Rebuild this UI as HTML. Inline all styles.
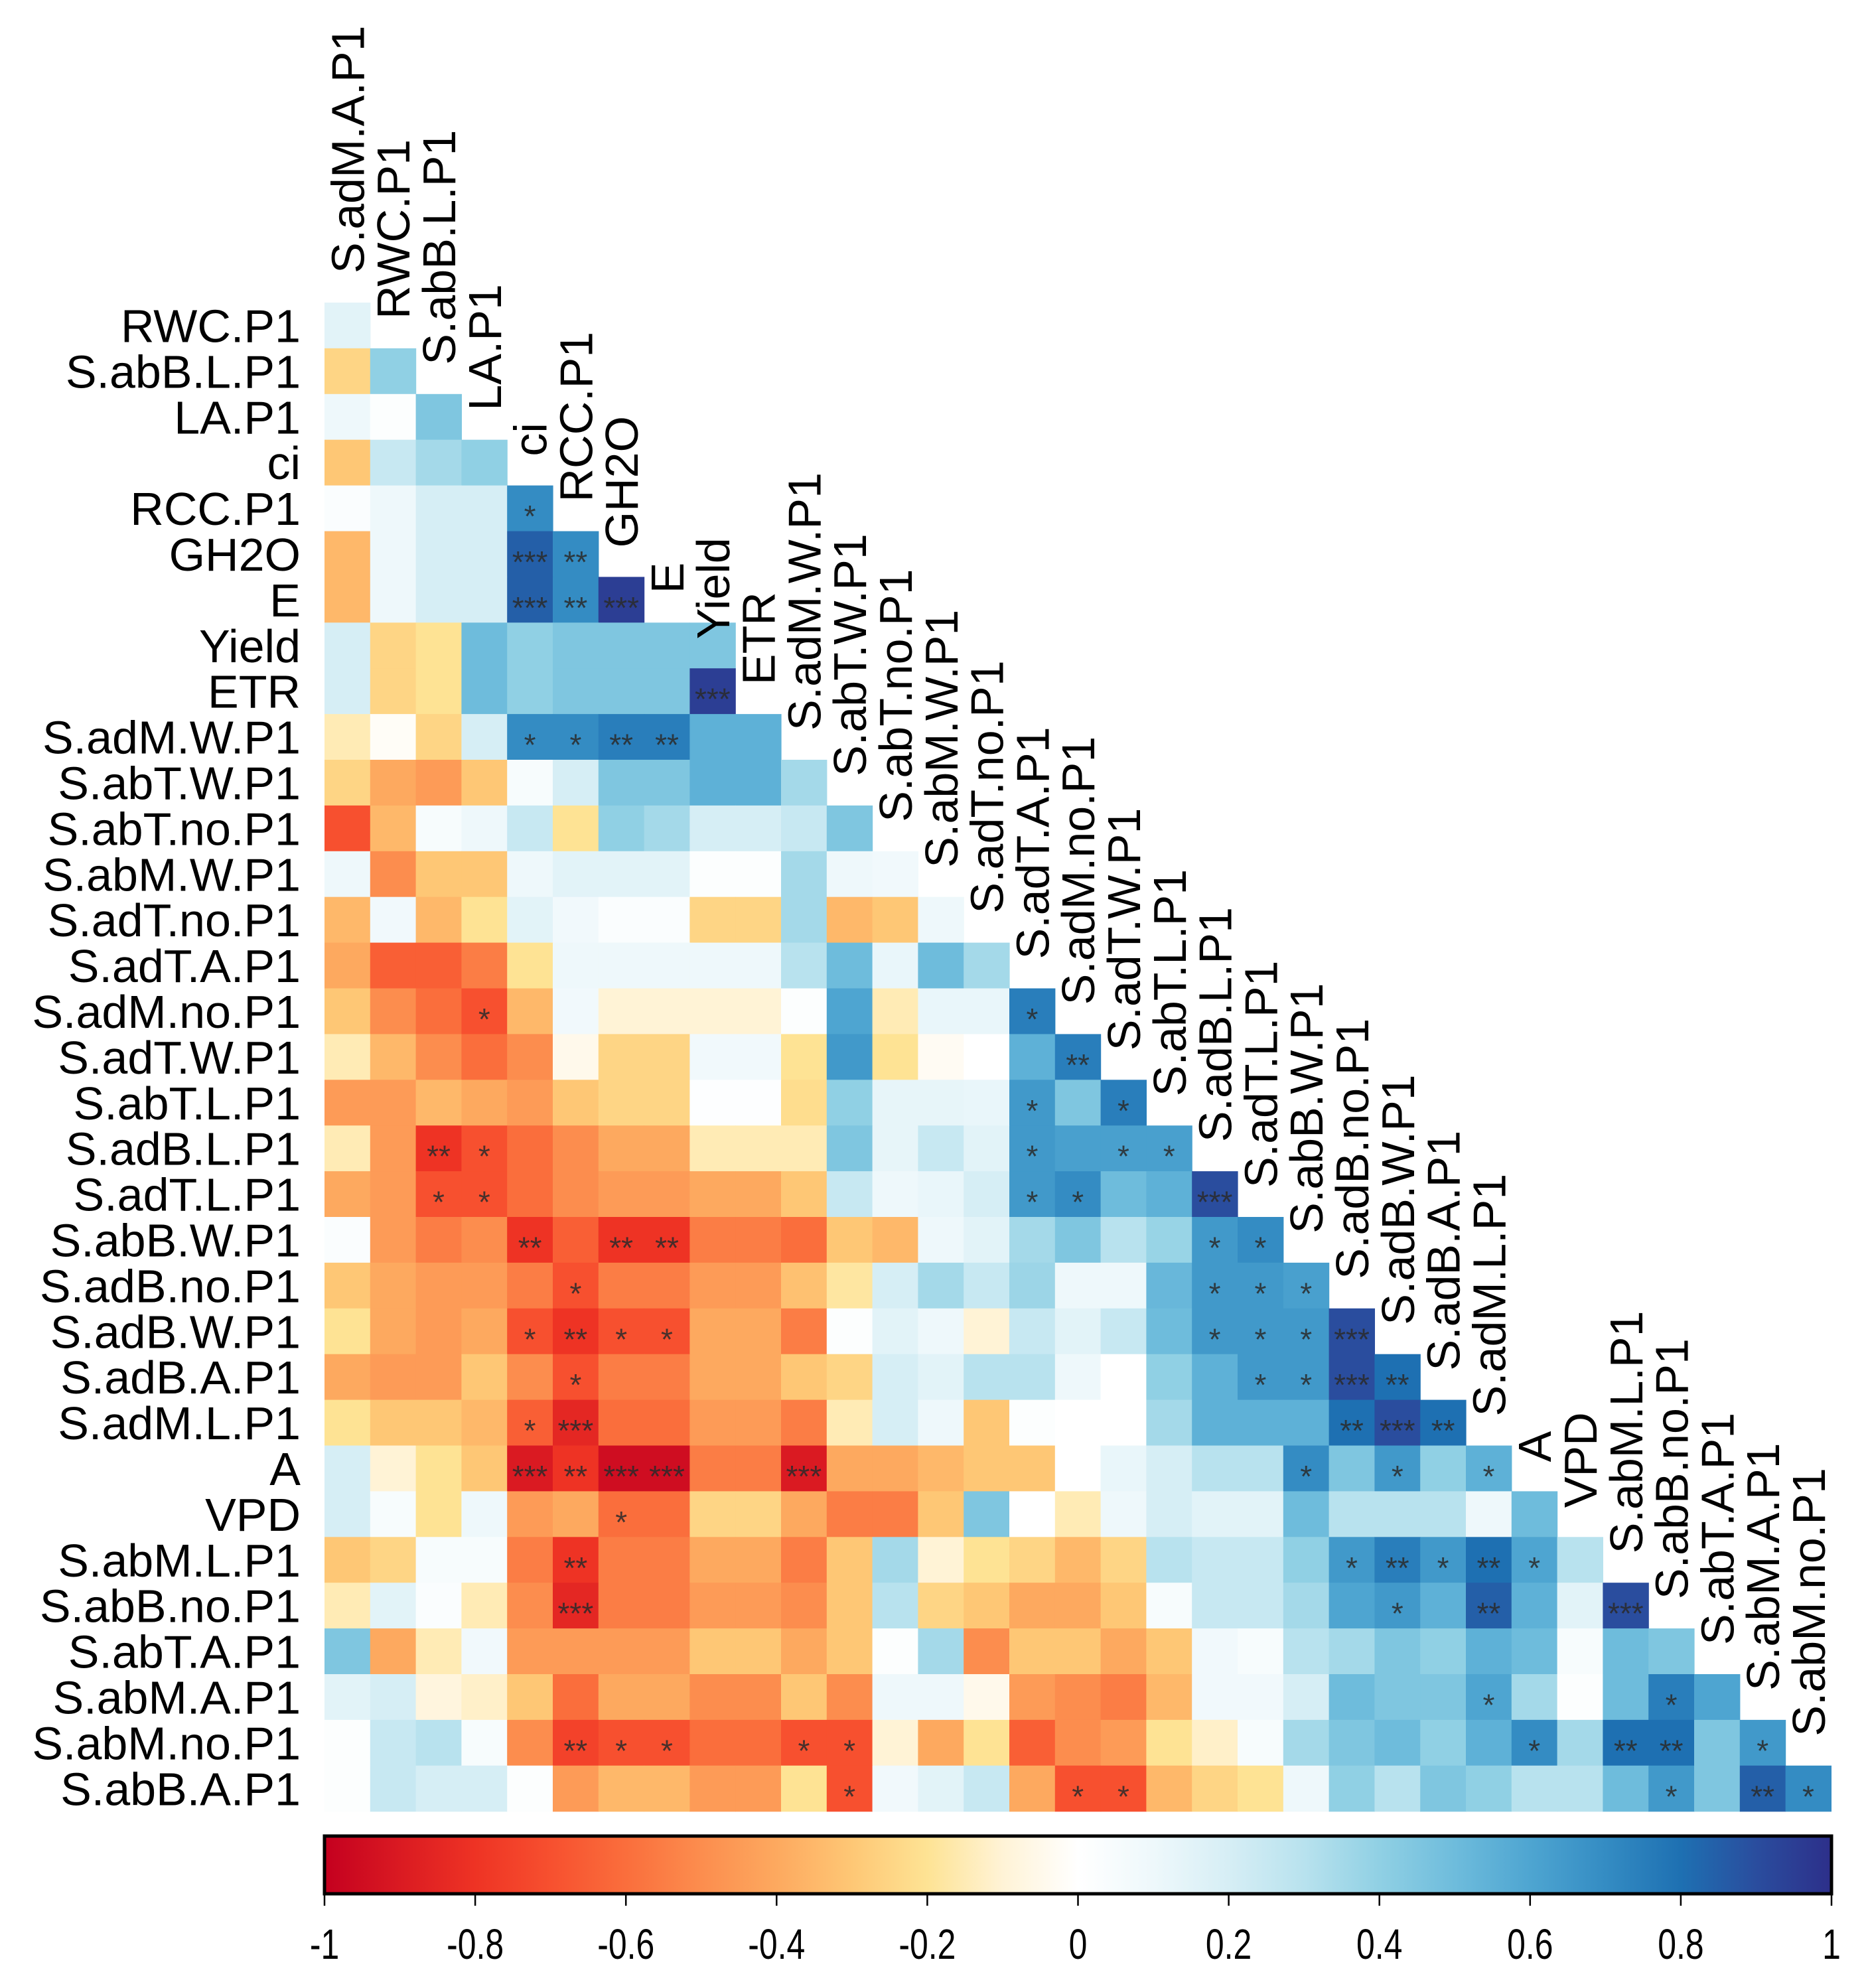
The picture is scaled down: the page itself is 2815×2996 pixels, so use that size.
<!DOCTYPE html>
<html><head><meta charset="utf-8"><style>
html,body{margin:0;padding:0;background:#fff;}
svg{display:block;font-family:"Liberation Sans",Arial,sans-serif;}
</style></head><body>
<svg id="chart" width="2815" height="2996" viewBox="0 0 2815 2996" xmlns="http://www.w3.org/2000/svg">
<defs>
<linearGradient id="cbgrad" x1="0" x2="1" y1="0" y2="0"></linearGradient>
</defs>
<g id="cells"></g>
<g id="stars"></g>
<g id="rowlabels"></g>
<g id="collabels"></g>
<g id="colorbar"></g>
</svg>
<script>
const colNames = ["S.adM.A.P1","RWC.P1","S.abB.L.P1","LA.P1","ci","RCC.P1","GH2O","E","Yield","ETR","S.adM.W.P1","S.abT.W.P1","S.abT.no.P1","S.abM.W.P1","S.adT.no.P1","S.adT.A.P1","S.adM.no.P1","S.adT.W.P1","S.abT.L.P1","S.adB.L.P1","S.adT.L.P1","S.abB.W.P1","S.adB.no.P1","S.adB.W.P1","S.adB.A.P1","S.adM.L.P1","A","VPD","S.abM.L.P1","S.abB.no.P1","S.abT.A.P1","S.abM.A.P1","S.abM.no.P1"];
const rowNames = ["RWC.P1","S.abB.L.P1","LA.P1","ci","RCC.P1","GH2O","E","Yield","ETR","S.adM.W.P1","S.abT.W.P1","S.abT.no.P1","S.abM.W.P1","S.adT.no.P1","S.adT.A.P1","S.adM.no.P1","S.adT.W.P1","S.abT.L.P1","S.adB.L.P1","S.adT.L.P1","S.abB.W.P1","S.adB.no.P1","S.adB.W.P1","S.adB.A.P1","S.adM.L.P1","A","VPD","S.abM.L.P1","S.abB.no.P1","S.abT.A.P1","S.abM.A.P1","S.abM.no.P1","S.abB.A.P1"];
const corrValues = [
[0.15],
[-0.25,0.4],
[0.1,0.02,0.45],
[-0.3,0.25,0.35,0.4],
[0.03,0.1,0.2,0.2,0.7],
[-0.35,0.1,0.2,0.2,0.85,0.7],
[-0.35,0.1,0.2,0.2,0.85,0.7,0.95],
[0.2,-0.25,-0.2,0.5,0.4,0.45,0.45,0.45,0.45],
[0.2,-0.25,-0.2,0.5,0.4,0.45,0.45,0.45,0.95],
[-0.15,-0.02,-0.25,0.2,0.7,0.7,0.75,0.75,0.55,0.55],
[-0.25,-0.4,-0.45,-0.3,0.05,0.2,0.45,0.45,0.55,0.55,0.35],
[-0.7,-0.35,0.05,0.1,0.25,-0.2,0.4,0.35,0.2,0.2,0.25,0.45],
[0.1,-0.5,-0.3,-0.3,0.1,0.15,0.15,0.15,0.02,0.02,0.35,0.1,0.08],
[-0.35,0.08,-0.35,-0.2,0.15,0.08,0.03,0.03,-0.25,-0.25,0.35,-0.35,-0.3,0.1],
[-0.4,-0.65,-0.65,-0.55,-0.2,0.1,0.1,0.1,0.1,0.1,0.3,0.5,0.12,0.5,0.35],
[-0.3,-0.5,-0.6,-0.7,-0.35,0.08,-0.1,-0.1,-0.1,-0.1,0.02,0.6,-0.15,0.12,0.12,0.75],
[-0.15,-0.35,-0.5,-0.6,-0.5,-0.05,-0.25,-0.25,0.08,0.08,-0.2,0.65,-0.2,-0.03,0.0,0.55,0.75],
[-0.45,-0.45,-0.35,-0.4,-0.45,-0.3,-0.25,-0.25,0.01,0.01,-0.22,0.4,0.13,0.13,0.12,0.65,0.45,0.75],
[-0.15,-0.45,-0.8,-0.7,-0.6,-0.5,-0.4,-0.4,-0.15,-0.15,-0.15,0.45,0.13,0.25,0.15,0.65,0.62,0.62,0.62],
[-0.4,-0.45,-0.7,-0.7,-0.6,-0.5,-0.45,-0.45,-0.4,-0.4,-0.3,0.25,0.1,0.12,0.2,0.65,0.7,0.5,0.55,0.9],
[0.03,-0.45,-0.55,-0.5,-0.8,-0.65,-0.8,-0.8,-0.55,-0.55,-0.6,-0.3,-0.35,0.1,0.15,0.35,0.45,0.3,0.38,0.65,0.7],
[-0.3,-0.4,-0.45,-0.45,-0.55,-0.7,-0.55,-0.55,-0.45,-0.45,-0.32,-0.18,0.2,0.35,0.25,0.37,0.1,0.1,0.52,0.65,0.65,0.62],
[-0.2,-0.4,-0.45,-0.4,-0.7,-0.8,-0.7,-0.7,-0.4,-0.4,-0.55,0.02,0.15,0.1,-0.1,0.25,0.15,0.25,0.5,0.65,0.65,0.65,0.9],
[-0.4,-0.45,-0.45,-0.3,-0.5,-0.7,-0.55,-0.55,-0.4,-0.4,-0.3,-0.25,0.2,0.15,0.3,0.3,0.1,0.0,0.4,0.55,0.65,0.65,0.9,0.8],
[-0.2,-0.3,-0.3,-0.35,-0.65,-0.85,-0.6,-0.6,-0.45,-0.45,-0.55,-0.15,0.2,0.1,-0.3,0.02,0.0,0.0,0.35,0.55,0.55,0.55,0.8,0.9,0.8],
[0.2,-0.1,-0.2,-0.3,-0.9,-0.8,-0.95,-0.95,-0.55,-0.55,-0.9,-0.4,-0.4,-0.35,-0.3,-0.3,0.0,0.12,0.2,0.3,0.3,0.7,0.45,0.65,0.4,0.55],
[0.2,0.05,-0.2,0.1,-0.45,-0.4,-0.6,-0.6,-0.25,-0.25,-0.4,-0.55,-0.55,-0.3,0.45,0.0,-0.15,0.1,0.2,0.15,0.15,0.5,0.3,0.3,0.3,0.1,0.5],
[-0.3,-0.25,0.05,0.05,-0.55,-0.8,-0.55,-0.55,-0.4,-0.4,-0.55,-0.3,0.35,-0.1,-0.2,-0.25,-0.35,-0.25,0.3,0.25,0.25,0.4,0.65,0.75,0.65,0.8,0.6,0.3],
[-0.15,0.15,0.03,-0.15,-0.5,-0.85,-0.55,-0.55,-0.45,-0.45,-0.5,-0.3,0.3,-0.25,-0.3,-0.4,-0.4,-0.3,0.05,0.25,0.25,0.35,0.6,0.65,0.55,0.85,0.55,0.15,0.9],
[0.45,-0.4,-0.15,0.08,-0.45,-0.45,-0.45,-0.45,-0.3,-0.3,-0.4,-0.3,0.02,0.35,-0.5,-0.3,-0.3,-0.4,-0.3,0.08,0.05,0.3,0.35,0.45,0.4,0.55,0.5,0.05,0.5,0.45],
[0.15,0.2,-0.08,-0.12,-0.3,-0.6,-0.4,-0.4,-0.5,-0.5,-0.3,-0.5,0.1,0.1,-0.05,-0.45,-0.5,-0.55,-0.35,0.08,0.08,0.2,0.5,0.45,0.45,0.6,0.35,0.02,0.5,0.75,0.6],
[0.02,0.25,0.3,0.05,-0.5,-0.75,-0.7,-0.7,-0.6,-0.6,-0.7,-0.7,-0.1,-0.4,-0.2,-0.65,-0.5,-0.45,-0.2,-0.12,0.05,0.35,0.45,0.5,0.4,0.55,0.7,0.35,0.8,0.8,0.45,0.65],
[0.02,0.25,0.2,0.2,0.02,-0.45,-0.35,-0.35,-0.45,-0.45,-0.2,-0.7,0.08,0.15,0.25,-0.4,-0.7,-0.7,-0.35,-0.25,-0.2,0.1,0.4,0.3,0.45,0.4,0.3,0.3,0.5,0.65,0.45,0.85,0.7]
];
const sigRows = [4,5,5,6,6,6,8,9,9,9,9,15,15,16,17,17,18,18,18,18,18,19,19,19,19,19,20,20,20,20,20,21,21,21,21,22,22,22,22,22,22,22,22,23,23,23,23,23,24,24,24,24,24,25,25,25,25,25,25,25,25,26,27,27,27,27,27,27,28,28,28,28,30,30,31,31,31,31,31,31,31,31,31,32,32,32,32,32,32];
const sigCols = [4,4,5,4,5,6,8,4,5,6,7,3,15,16,15,17,2,3,15,17,18,2,3,15,16,19,4,6,7,19,20,5,19,20,21,4,5,6,7,19,20,21,22,5,20,21,22,23,4,5,22,23,24,4,5,6,7,10,21,23,25,6,5,22,23,24,25,26,5,23,25,28,25,29,5,6,7,10,11,26,28,29,31,11,16,17,29,31,32];
const sigLevels = [1,3,2,3,2,3,3,1,1,2,2,1,1,2,1,1,2,1,1,1,1,1,1,1,1,3,2,2,2,1,1,1,1,1,1,1,2,1,1,1,1,1,3,1,1,1,3,2,1,3,2,3,2,3,2,3,3,3,1,1,1,1,2,1,2,1,2,1,3,1,2,3,1,1,2,1,1,1,1,1,2,2,1,1,1,1,1,2,1];
const tickValues = [-1,-0.8,-0.6,-0.4,-0.2,0,0.2,0.4,0.6,0.8,1];
const tickLabels = ["-1","-0.8","-0.6","-0.4","-0.2","0","0.2","0.4","0.6","0.8","1"];

const NS = "http://www.w3.org/2000/svg";
const X0 = 489, Y0 = 456, CW = 68.8, CH = 68.9;
const CB_X0 = 489, CB_X1 = 2760, CB_Y0 = 2767, CB_Y1 = 2854;
const stopVals = [-1,-0.9,-0.8,-0.7,-0.6,-0.5,-0.4,-0.3,-0.2,-0.1,0,0.1,0.2,0.3,0.4,0.5,0.6,0.7,0.8,0.9,1];
const stopCols = ["#C4001F","#DA1A22","#EE3324","#F7502F","#FA6E3C","#FC8D4E","#FDA95F","#FEC775","#FEE394","#FFF3D6","#FFFFFF","#EEF8FB","#D6EEF5","#B8E2EE","#90D0E4","#6EBCDC","#4EA5D1","#348CC3","#1E70B2","#2A4D9E","#2D2F8A"];
function hex(h){return [parseInt(h.slice(1,3),16),parseInt(h.slice(3,5),16),parseInt(h.slice(5,7),16)];}
function colorOf(v){
  v=Math.max(-1,Math.min(1,v));
  let i=Math.min(stopVals.length-2,Math.floor((v+1)/0.1));
  const t=(v-stopVals[i])/0.1;
  const a=hex(stopCols[i]),b=hex(stopCols[i+1]);
  return "rgb("+a.map((x,k)=>Math.round(x+(b[k]-x)*t)).join(",")+")";
}
function xCol(c){return X0+c*CW;}
function yRow(r){return Y0+r*CH;}
function xScale(v){return CB_X0+(v+1)/2*(CB_X1-CB_X0);}
function mk(tag,attrs,parent){const e=document.createElementNS(NS,tag);for(const k in attrs)e.setAttribute(k,attrs[k]);parent.appendChild(e);return e;}

const gCells=document.getElementById("cells");
corrValues.forEach((row,r)=>{
  row.forEach((v,c)=>{
    const e=mk("rect",{x:xCol(c).toFixed(2),y:yRow(r).toFixed(2),width:(CW+0.6).toFixed(2),height:(CH+0.6).toFixed(2),fill:colorOf(v)},gCells);
    
    
  });
});
const gStars=document.getElementById("stars");
sigRows.forEach((r,i)=>{
  const c=sigCols[i];
  const t=mk("text",{x:(xCol(c)+CW/2).toFixed(1),y:(yRow(r)+CH/2+28).toFixed(1),"text-anchor":"middle","font-size":"46",fill:"#2a2a2a","fill-opacity":"0.85"},gStars);
  t.textContent="*".repeat(sigLevels[i]);
  
  
});
const gRow=document.getElementById("rowlabels");
rowNames.forEach((n,r)=>{
  const t=mk("text",{x:"453",y:(yRow(r)+CH/2+25).toFixed(1),"text-anchor":"end","font-size":"70",fill:"#000"},gRow);
  t.textContent=n;
  
  
});
const gCol=document.getElementById("collabels");
colNames.forEach((n,c)=>{
  const x=xCol(c)+CW/2+25, y=yRow(c)-44;
  const t=mk("text",{x:x.toFixed(1),y:y.toFixed(1),transform:"rotate(-90 "+x.toFixed(1)+" "+y.toFixed(1)+")","text-anchor":"start","font-size":"70",fill:"#000"},gCol);
  t.textContent=n;
  
  
});
const grad=document.getElementById("cbgrad");
stopVals.forEach((v,i)=>{mk("stop",{offset:((v+1)/2*100).toFixed(1)+"%","stop-color":stopCols[i]},grad);});
const gCb=document.getElementById("colorbar");
const cbr=mk("rect",{x:CB_X0,y:CB_Y0,width:CB_X1-CB_X0,height:CB_Y1-CB_Y0,fill:"url(#cbgrad)",stroke:"#000","stroke-width":"5"},gCb);


tickValues.forEach((v,i)=>{
  const x=xScale(v);
  const l=mk("line",{x1:x,x2:x,y1:CB_Y1,y2:CB_Y1+18,stroke:"#000","stroke-width":"2.5"},gCb);
  
  
  const t=mk("text",{x:0,y:0,transform:"translate("+x.toFixed(1)+" 2952) scale(0.78 1)","text-anchor":"middle","font-size":"64",fill:"#000"},gCb);
  t.textContent=tickLabels[i];
  
  
});
</script>
</body></html>
